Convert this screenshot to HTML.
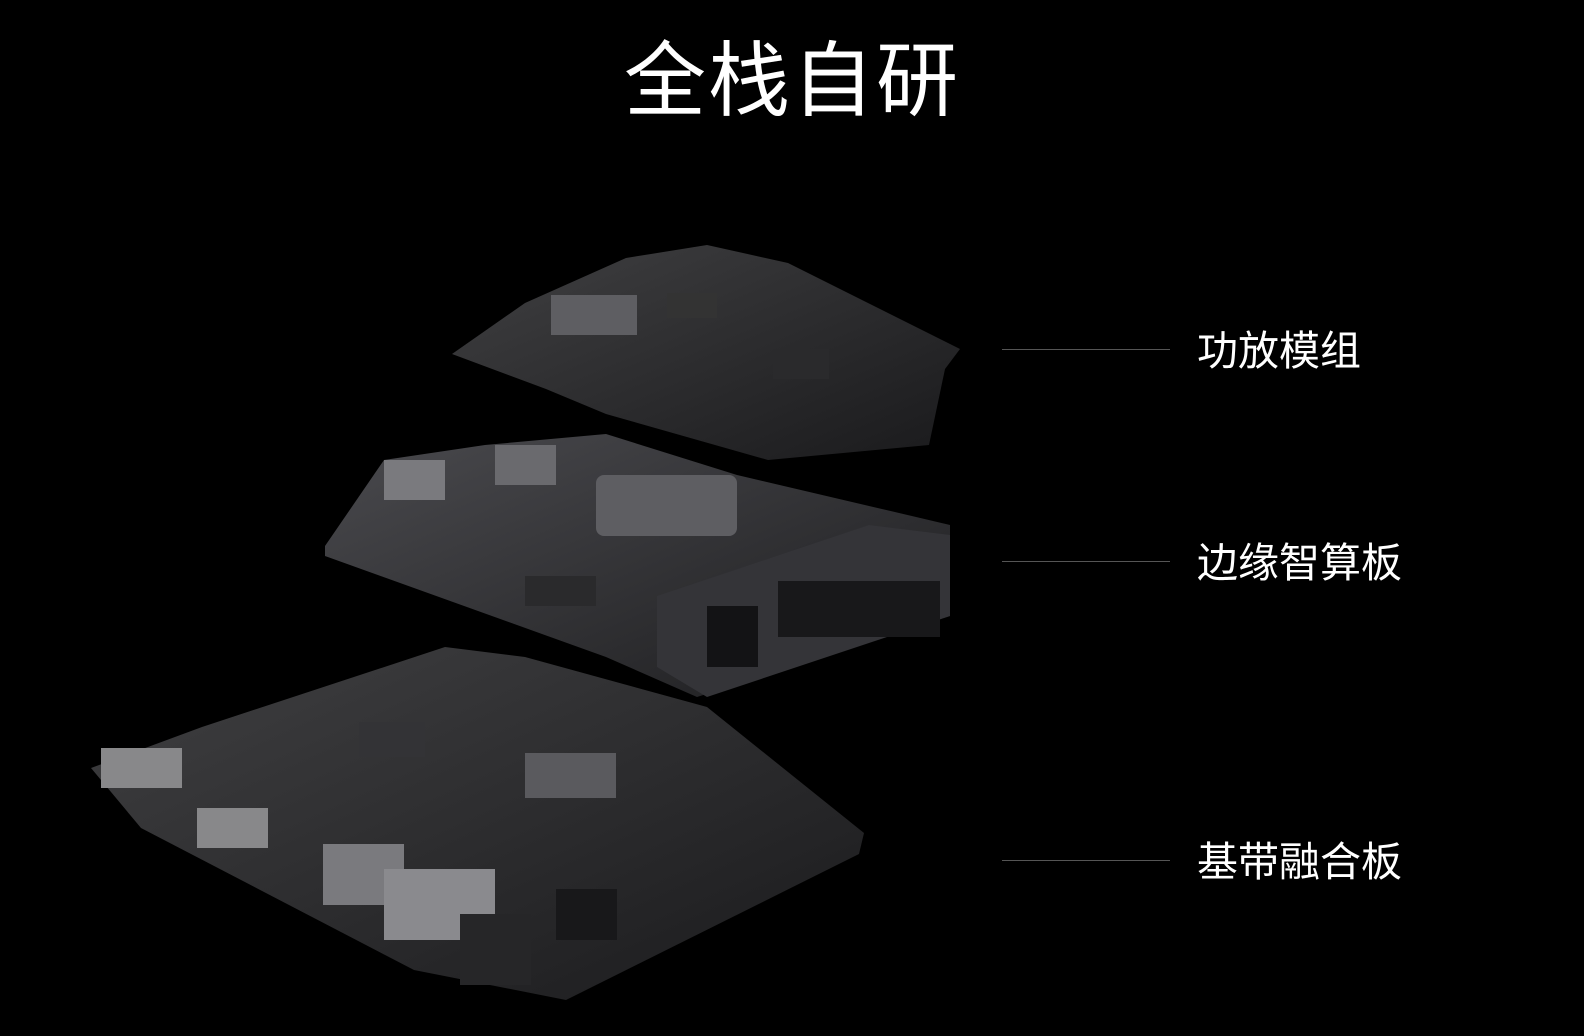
<!DOCTYPE html>
<html><head><meta charset="utf-8"><style>
html,body{margin:0;padding:0;background:#000;}
body{width:1584px;height:1036px;position:relative;overflow:hidden;font-family:"Liberation Sans","Noto Sans CJK SC",sans-serif;color:#fff;}
.t{position:absolute;left:0;width:1584px;top:32px;text-align:center;font-size:82px;line-height:100px;letter-spacing:2px;}
.l{position:absolute;left:1197px;font-size:41px;line-height:50px;}
.ln{position:absolute;left:1002px;width:168px;height:1px;background:#555;}
svg{position:absolute;left:0;top:0;}
</style></head><body>
<svg width="1584" height="1036">
<defs>
<linearGradient id="g1" x1="0" y1="0" x2="1" y2="1"><stop offset="0" stop-color="#404042"/><stop offset="1" stop-color="#1a1a1c"/></linearGradient>
<linearGradient id="g2" x1="0" y1="0" x2="1" y2="1"><stop offset="0" stop-color="#4a4a4e"/><stop offset="1" stop-color="#1c1c1e"/></linearGradient>
</defs>
<polygon points="452,354 525,303 626,258 707,245 788,263 960,349 945,369 929,445 768,460 606,414 546,389" fill="url(#g1)"/>
<rect x="551" y="295" width="86" height="40" fill="#5e5e62"/>
<rect x="773" y="349" width="56" height="30" fill="#2a2a2c"/>
<rect x="667" y="293" width="50" height="25" fill="#333"/>
<polygon points="325,546 384,460 485,445 606,434 737,475 950,525 950,616 697,697 606,657 325,556" fill="url(#g2)"/>
<rect x="596" y="475" width="141" height="61" rx="8" fill="#5e5e62"/>
<rect x="384" y="460" width="61" height="40" fill="#7a7a7e"/>
<rect x="495" y="445" width="61" height="40" fill="#6a6a6e"/>
<polygon points="657,596 869,525 950,535 950,616 707,697 657,667" fill="#343438"/>
<rect x="707" y="606" width="51" height="61" fill="#131315"/>
<rect x="778" y="581" width="162" height="56" fill="#18181a"/>
<rect x="525" y="576" width="71" height="30" fill="#2a2a2c"/>
<polygon points="91,768 202,727 445,647 525,657 707,707 864,833 859,854 566,1000 414,970 141,828" fill="url(#g1)"/>
<rect x="323" y="844" width="81" height="61" fill="#7a7a7e"/>
<rect x="384" y="869" width="111" height="71" fill="#8a8a8e"/>
<rect x="525" y="753" width="91" height="45" fill="#5a5a5e"/>
<rect x="359" y="722" width="66" height="35" fill="#333336"/>
<rect x="101" y="748" width="81" height="40" fill="#88888a"/>
<rect x="197" y="808" width="71" height="40" fill="#88888a"/>
<rect x="460" y="914" width="71" height="71" fill="#262628"/>
<rect x="556" y="889" width="61" height="51" fill="#18181a"/>
</svg>
<div class="t">全栈自研</div>
<div class="ln" style="top:349px"></div>
<div class="ln" style="top:561px"></div>
<div class="ln" style="top:860px"></div>
<div class="l" style="top:326px">功放模组</div>
<div class="l" style="top:538px">边缘智算板</div>
<div class="l" style="top:837px">基带融合板</div>
</body></html>
